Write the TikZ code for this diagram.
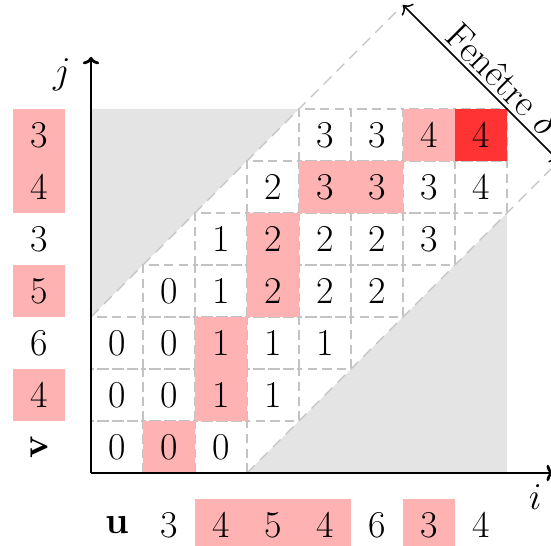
\documentclass[tikz,border=0pt]{standalone}
\usetikzlibrary{arrows.meta}
\definecolor{pinkc}{RGB}{255,178,178}
\definecolor{darkc}{RGB}{255,51,51}
\definecolor{shadec}{RGB}{228,228,228}
\definecolor{gridc}{RGB}{195,195,195}
\begin{document}
\begin{tikzpicture}[x=1cm,y=1cm,font=\huge,
  cellbox/.style={draw=gridc, dash pattern=on 5pt off 3pt, line width=0.6pt},
  winline/.style={draw=gridc, dash pattern=on 6pt off 4pt, line width=0.6pt},
  val/.style={inner sep=0pt, anchor=center},
  axisline/.style={line width=1.5pt, -{To[length=4pt,width=9pt]}},
  winarrow/.style={line width=0.8pt, {To[length=4pt,width=9pt]}-{To[length=4pt,width=9pt]}}
]
\useasboundingbox (-1.75,-1.385) rectangle (8.846,9.096);
% shaded regions outside the window
\fill[shadec] (0,3) -- (0,7) -- (4,7) -- cycle;
\fill[shadec] (3,0) -- (8,0) -- (8,5) -- cycle;
% window borders
\coordinate (w1) at (0,3);
\coordinate (w2) at (6,9);
\coordinate (w3) at (3,0);
\coordinate (w4) at (9,6);
\draw[winline] (w1) -- (w2);
\draw[winline] (w3) -- (w4);
% dashed cells
\foreach \i in {0,...,7}{
  \foreach \j in {0,...,6}{
    \pgfmathtruncatemacro\d{abs(\i-\j)}
    \ifnum\d<3 \draw[cellbox] (\i,\j) rectangle ++(1,1); \fi
  }
}
% highlighted path
\foreach \i/\j in {1/0,2/1,2/2,3/3,3/4,4/5,5/5,6/6}{
  \fill[pinkc] (\i,\j) rectangle ++(1,1);
}
\fill[darkc] (7,6) rectangle ++(1,1);
% values
\foreach \i/\j/\v in {0/0/0,1/0/0,2/0/0,
  0/1/0,1/1/0,2/1/1,3/1/1,
  0/2/0,1/2/0,2/2/1,3/2/1,4/2/1,
  1/3/0,2/3/1,3/3/2,4/3/2,5/3/2,
  2/4/1,3/4/2,4/4/2,5/4/2,6/4/3,
  3/5/2,4/5/3,5/5/3,6/5/3,7/5/4,
  4/6/3,5/6/3,6/6/4,7/6/4}{
  \node[val] (c\i-\j) at (\i+0.5,\j+0.5) {\v};
}
% sequence u
\fill[pinkc] (2,-1.5) rectangle (5,-0.5);
\fill[pinkc] (6,-1.5) rectangle (7,-0.5);
\node[val] (u0) at (0.5,-1) {$\mathbf{u}$};
\foreach \i/\v in {1/3,2/4,3/5,4/4,5/6,6/3,7/4}{
  \node[val] (u\i) at (\i+0.5,-1) {\v};
}
% sequence v
\foreach \j in {1,3,5,6}{
  \fill[pinkc] (-1.5,\j) rectangle (-0.5,\j+1);
}
\node[val,rotate=90] (v0) at (-1,0.5) {$\mathbf{v}$};
\foreach \j/\v in {1/4,2/6,3/5,4/3,5/4,6/3}{
  \node[val] (v\j) at (-1,\j+0.5) {\v};
}
% axes
\coordinate (o) at (0,0);
\coordinate (xe) at (8.9,0);
\coordinate (ye) at (0,8);
\draw[axisline] (o) -- (xe);
\draw[axisline] (o) -- (ye);
\node (jl) at (-0.56,7.65) {$j$};
\node (il) at (8.54,-0.46) {$i$};
% window width arrow
\draw[winarrow] (w2) -- node[sloped, above, inner sep=2pt, pos=0.56] (wl) {Fenêtre $\delta$} (w4);
\end{tikzpicture}
\end{document}
